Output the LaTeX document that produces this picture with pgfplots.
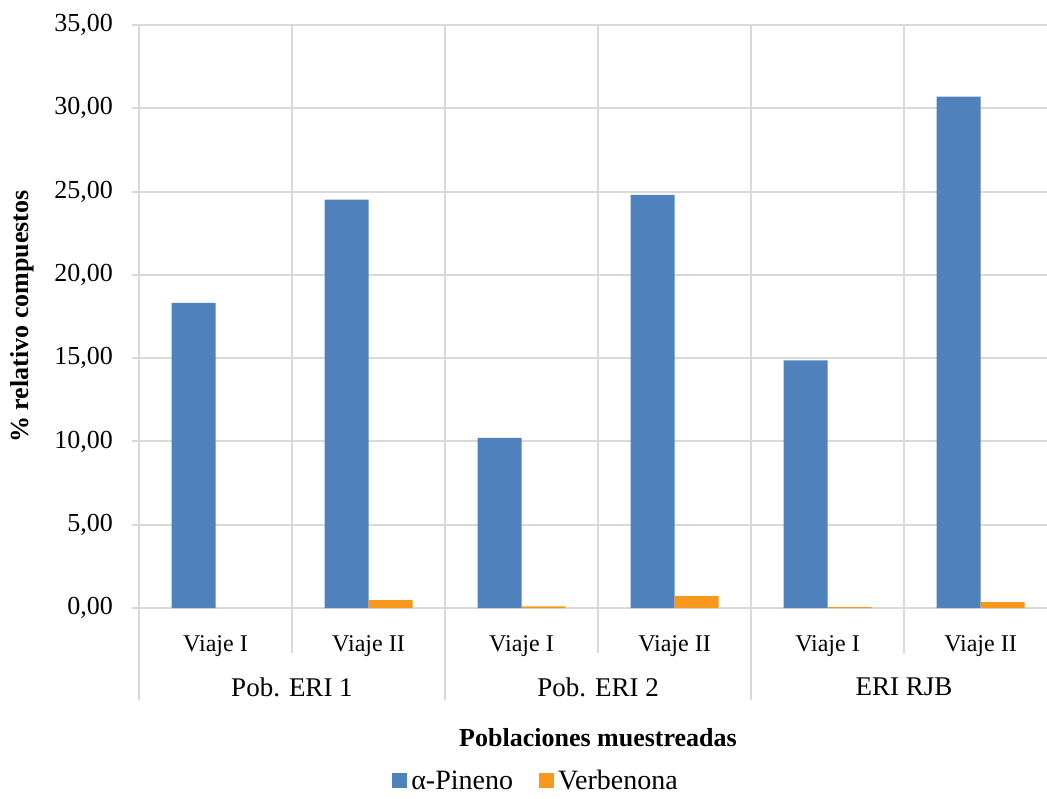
\documentclass[border=0pt]{standalone}
\usepackage{fontspec}
\setmainfont{Liberation Serif}
\usepackage{pgfplots}
\pgfplotsset{compat=1.18}
\definecolor{pinenoBlue}{RGB}{79,129,189}
\definecolor{verbOrange}{RGB}{247,152,29}
\definecolor{gridGray}{RGB}{217,217,217}
\pgfplotsset{
    square legend/.style={legend image code/.code={\path[##1] (0pt,-3.3pt) rectangle (7.5pt,4.2pt);}},
}

\begin{document}
\begin{tikzpicture}
\useasboundingbox (0pt,0pt) rectangle (523.5pt,399pt);
\clip (0pt,0pt) rectangle (523.5pt,399pt);
\begin{axis}[
    at={(69.5pt,95pt)}, anchor=south west,
    width=459pt, height=291.5pt, scale only axis,
    ybar=0pt, bar width=22pt,
    xmin=-0.5, xmax=5.5, ymin=0, ymax=35,
    xtick={0,...,5},
    xticklabels={Viaje I, Viaje II, Viaje I, Viaje II, Viaje I, Viaje II},
    minor xtick={0.5,1.5,2.5,3.5,4.5},
    ytick={0,5,...,35},
    xminorgrids=true, ymajorgrids=true,
    major grid style={gridGray, line width=1pt},
    minor grid style={gridGray, line width=1pt},
    axis x line*=bottom, axis y line*=left,
    axis line style={gridGray, line width=1pt},
    xtick style={draw=none},
    ytick style={gridGray, line width=1pt},
    tick align=outside, major tick length=3.5pt,
    xticklabel style={font=\fontsize{12}{14}\selectfont, anchor=center, yshift=-15.5pt},
    yticklabel style={font=\fontsize{13}{15}\selectfont, anchor=east, xshift=-6pt,
        /pgf/number format/.cd, fixed, fixed zerofill, precision=2, use comma, assume math mode=true},
    ylabel={\% relativo compuestos},
    ylabel style={font=\bfseries\fontsize{13}{15}\selectfont, at={(axis description cs:-0.1275,0.5)}, anchor=center},
    xlabel={Poblaciones muestreadas},
    xlabel style={font=\bfseries\fontsize{13}{15}\selectfont, at={(axis description cs:0.5,-0.223)}, anchor=center},
    legend style={at={(axis description cs:0.4336,-0.298)}, anchor=center, draw=none,
        legend columns=-1, font=\fontsize{14}{16}\selectfont, inner sep=0pt,
        /tikz/every even column/.append style={column sep=11pt}},
    legend cell align=left,
    square legend,
    clip=false,
]
\addplot[fill=pinenoBlue, draw=none] coordinates {(0,18.32) (1,24.52) (2,10.22) (3,24.80) (4,14.86) (5,30.70)};
\addplot[fill=verbOrange, draw=none] coordinates {(1,0.47) (2,0.10) (3,0.72) (4,0.05) (5,0.36)};
\legend{α-Pineno, Verbenona}

% category separators below the axis
\draw[gridGray, line width=1pt] (axis cs:0.5,0) -- ++(0pt,-22.5pt);
\draw[gridGray, line width=1pt] (axis cs:2.5,0) -- ++(0pt,-22.5pt);
\draw[gridGray, line width=1pt] (axis cs:4.5,0) -- ++(0pt,-22.5pt);
\draw[gridGray, line width=1pt] (axis cs:-0.5,0) -- ++(0pt,-46pt);
\draw[gridGray, line width=1pt] (axis cs:1.5,0) -- ++(0pt,-46pt);
\draw[gridGray, line width=1pt] (axis cs:3.5,0) -- ++(0pt,-46pt);
\draw[gridGray, line width=1pt] (axis cs:5.5,0) -- ++(0pt,-46pt);
\node[font=\fontsize{13.5}{15}\selectfont] at ([yshift=-39.5pt]axis cs:0.5,0) {Pob. ERI 1};
\node[font=\fontsize{13.5}{15}\selectfont] at ([yshift=-39.5pt]axis cs:2.5,0) {Pob. ERI 2};
\node[font=\fontsize{13.5}{15}\selectfont] at ([yshift=-39.5pt]axis cs:4.5,0) {ERI RJB};
\end{axis}
\end{tikzpicture}
\end{document}
